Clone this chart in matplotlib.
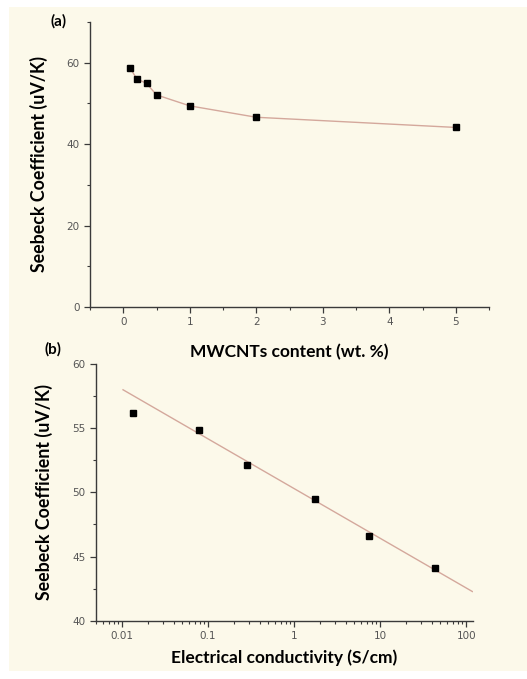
import matplotlib
matplotlib.use("Agg")
import matplotlib.pyplot as plt
from matplotlib.patches import Rectangle
from matplotlib.ticker import MultipleLocator, LogLocator, FixedLocator, NullFormatter
import numpy as np

# (a) Seebeck coefficient vs MWCNTs content
content = [0.1, 0.2, 0.35, 0.5, 1, 2, 5]
seebeck_a = [58.8, 56.1, 54.9, 52.1, 49.4, 46.6, 44.1]

# (b) Seebeck coefficient vs electrical conductivity
conductivity = [0.0135, 0.078, 0.286, 1.74, 7.5, 44.0]
seebeck_b = [56.15, 54.85, 52.1, 49.47, 46.63, 44.14]
xtick_b = [0.01, 0.1, 1, 10, 100]
xtick_b_labels = ["0.01", "0.1", "1", "10", "100"]

BG = "#FCF9EA"
LINE = "#D4A89C"
SPINE = "#3a3a3a"
TICKC = "#555555"
FONT = "Lato"

fig = plt.figure(figsize=(5.27, 6.79), dpi=100)
fig.patch.set_facecolor("white")
fig.patches.append(Rectangle((0.018, 0.012), 0.982, 0.978, transform=fig.transFigure,
                             facecolor=BG, edgecolor="none", zorder=-10))


def style(ax):
    ax.set_facecolor("none")
    for s in ["top", "right"]:
        ax.spines[s].set_visible(False)
    for s in ["left", "bottom"]:
        ax.spines[s].set_color(SPINE)
        ax.spines[s].set_linewidth(1.0)
    ax.tick_params(which="major", direction="out", length=4, width=0.9,
                   colors=SPINE, labelcolor=TICKC, labelsize=7.5)
    ax.tick_params(which="minor", direction="out", length=2.5, width=0.8, colors=SPINE)


ax1 = fig.add_axes([0.1708, 0.5479, 0.7572, 0.4197])
style(ax1)
ax1.plot(content, seebeck_a, "-", color=LINE, lw=1.0, zorder=2)
ax1.plot(content, seebeck_a, "s", color="black", ms=5, zorder=3)
ax1.set_xlim(-0.5, 5.5)
ax1.set_ylim(0, 70)
ax1.xaxis.set_major_locator(MultipleLocator(1))
ax1.xaxis.set_minor_locator(MultipleLocator(0.5))
ax1.yaxis.set_major_locator(MultipleLocator(20))
ax1.yaxis.set_minor_locator(MultipleLocator(10))
ax1.set_xticks([0, 1, 2, 3, 4, 5], ["0", "1", "2", "3", "4", "5"])
ax1.set_ylabel("Seebeck Coefficient (uV/K)", fontsize=12.8, fontweight="bold",
               family=FONT, labelpad=13)
ax1.set_xlabel("MWCNTs content (wt. %)", fontsize=12.5, fontweight="bold",
               family=FONT, labelpad=12)
fig.text(0.095, 0.963, "(a)", fontsize=11, fontweight="bold", family=FONT)

ax2 = fig.add_axes([0.1822, 0.0859, 0.7153, 0.378])
style(ax2)
ax2.set_xscale("log")
# linear fit of S vs log10(sigma), excluding the lowest-conductivity point
coef = np.polyfit(np.log10(conductivity[1:]), seebeck_b[1:], 1)
xfit = np.logspace(np.log10(0.0103), np.log10(118), 50)
ax2.plot(xfit, np.polyval(coef, np.log10(xfit)), "-", color=LINE, lw=1.0, zorder=2)
ax2.plot(conductivity, seebeck_b, "s", color="black", ms=5, zorder=3)
ax2.set_xlim(0.005, 120)
ax2.set_ylim(40, 60)
ax2.xaxis.set_major_locator(FixedLocator(xtick_b))
ax2.set_xticklabels(xtick_b_labels)
ax2.xaxis.set_minor_locator(LogLocator(base=10, subs=np.arange(2, 10)))
ax2.xaxis.set_minor_formatter(NullFormatter())
ax2.yaxis.set_major_locator(MultipleLocator(5))
ax2.yaxis.set_minor_locator(MultipleLocator(2.5))
ax2.set_ylabel("Seebeck Coefficient (uV/K)", fontsize=12.8, fontweight="bold",
               family=FONT, labelpad=14)
ax2.set_xlabel("Electrical conductivity (S/cm)", fontsize=12.5, fontweight="bold",
               family=FONT, labelpad=6)
fig.text(0.085, 0.48, "(b)", fontsize=11, fontweight="bold", family=FONT)

fig.savefig("out.png", dpi=100, facecolor=fig.get_facecolor())
